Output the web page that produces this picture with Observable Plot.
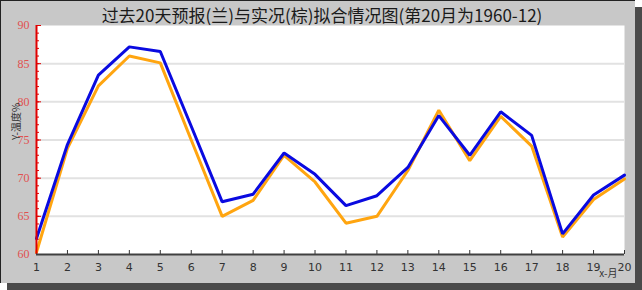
<!DOCTYPE html>
<html><head><meta charset="utf-8">
<script src="https://cdn.jsdelivr.net/npm/d3@7"></script>
<script src="https://cdn.jsdelivr.net/npm/@observablehq/plot@0.6"></script>
<style>
body{margin:0;background:#fff;}
#wrap{position:relative;width:642px;height:290px;overflow:hidden;}
#panel{position:absolute;left:0;top:0;width:634px;height:282px;background:#c8c8c8;border-left:1px solid #222;border-top:1px solid #222;box-shadow:7px 7px 0 #4a4a4a;}
#title{position:absolute;left:0;top:2px;width:644px;text-align:center;font:17px "Noto Sans CJK SC";color:#1a1a1a;white-space:nowrap;}
#chart{position:absolute;left:0;top:0;}
</style></head>
<body>
<div id="wrap">
<div id="panel"></div>
<div id="title"></div>
<div id="chart"></div>
</div>
<script>
const titleText = "过去20天预报(兰)与实况(棕)拟合情况图(第20月为1960-12)";
const yLabel = "Y-温度%";
const xLabel = "x-月";
const months = [1,2,3,4,5,6,7,8,9,10,11,12,13,14,15,16,17,18,19,20];
const forecast = [62.1,74.4,83.5,87.2,86.6,76.8,66.9,67.9,73.3,70.5,66.4,67.7,71.4,78.2,73.0,78.7,75.6,62.7,67.8,70.4];
const actual = [60.3,73.9,82.1,86.0,85.1,75.0,65.0,67.1,73.0,69.5,64.1,65.0,71.0,78.9,72.3,78.1,74.2,62.3,67.2,69.9];
const yMajorTicks = [60,65,70,75,80,85,90];
const yGridTicks = [65,70,75,80,85];
const yMinorTicks = [60,61,62,63,64,65,66,67,68,69,70,71,72,73,74,75,76,77,78,79,80,81,82,83,84,85,86,87,88,89,90];

document.getElementById("title").textContent = titleText;
const data = months.map((m, i) => ({month: m, forecast: forecast[i], actual: actual[i]}));

const chart = Plot.plot({
  width: 642, height: 290,
  marginLeft: 36, marginRight: 18, marginTop: 25, marginBottom: 36,
  style: {background: "transparent", overflow: "visible"},
  x: {domain: [1, 20]},
  y: {domain: [60, 90]},
  marks: [
    Plot.frame({fill: "white", stroke: null}),
    Plot.ruleY(yGridTicks, {stroke: "#e2e2e2", strokeWidth: 2}),
    Plot.axisY(yMinorTicks, {tickSize: -3, stroke: "#e00000", strokeOpacity: 1, text: null, label: null}),
    Plot.axisY(yMajorTicks, {tickSize: -5, stroke: "#e00000", strokeOpacity: 1, text: null, label: null}),
    Plot.axisY(yMajorTicks, {tickSize: 0, tickPadding: 7, fill: "#e05050", fontFamily: "Liberation Serif", fontSize: 12, label: null}),
    Plot.axisX(months, {tickSize: -4, stroke: "#333", strokeOpacity: 1, text: null, label: null}),
    Plot.axisX(months, {tickSize: 0, tickPadding: 9, fill: "#333", fontFamily: "DejaVu Sans", fontSize: 11, label: null}),
    Plot.line(data, {x: "month", y: "actual", stroke: "#ffa510", strokeWidth: 3, strokeLinejoin: "miter"}),
    Plot.line(data, {x: "month", y: "forecast", stroke: "#0a0ae0", strokeWidth: 3, strokeLinejoin: "miter"}),
    Plot.ruleX([1], {stroke: "#e00000", strokeWidth: 2}),
    Plot.ruleY([60], {stroke: "#404040", strokeWidth: 2}),
    Plot.text([yLabel], {frameAnchor: "left", dx: -20, rotate: -90, fontSize: 10, fill: "#333", fontFamily: "Noto Sans CJK SC"}),
    Plot.text([xLabel], {frameAnchor: "bottom-right", dx: -7, dy: 22, fontSize: 10, fill: "#333", fontFamily: "Noto Sans CJK SC"})
  ]
});
document.getElementById("chart").appendChild(chart);
</script>
</body></html>
